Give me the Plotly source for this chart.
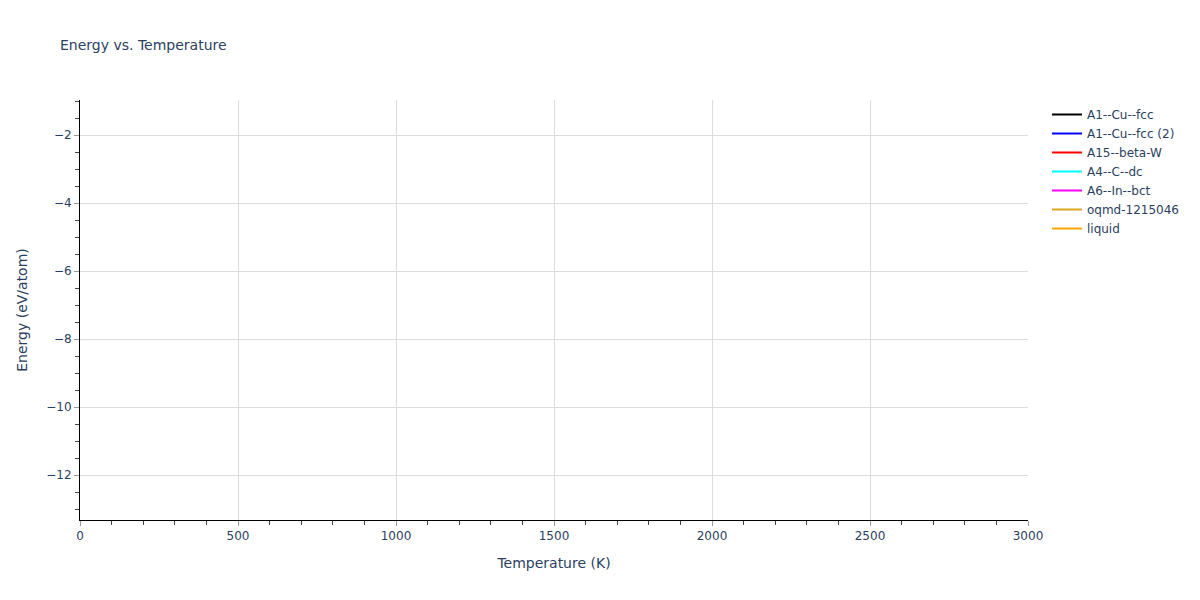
import plotly.graph_objects as go

# phases shown in the legend; no energy values fall inside the plotted window
phase_names = [
    "A1--Cu--fcc",
    "A1--Cu--fcc (2)",
    "A15--beta-W",
    "A4--C--dc",
    "A6--In--bct",
    "oqmd-1215046",
    "liquid",
]
phase_colors = ["black", "blue", "red", "cyan", "magenta", "goldenrod", "orange"]
temperatures = [None]
energies = {name: [None] for name in phase_names}

fig = go.Figure()
for name, color in zip(phase_names, phase_colors):
    fig.add_trace(go.Scatter(
        x=temperatures,
        y=energies[name],
        mode="lines",
        name=name,
        line=dict(color=color, width=2),
    ))

axis_style = dict(
    showline=True,
    linecolor="black",
    linewidth=1,
    ticks="outside",
    tickcolor="#999",
    ticklen=5,
    showgrid=True,
    gridcolor="#dcdcdc",
    zeroline=False,
)

fig.update_xaxes(
    title_text="Temperature (K)",
    range=[0, 3000],
    dtick=500,
    minor=dict(ticks="outside", dtick=100, ticklen=4, tickcolor="#444", showgrid=False),
    **axis_style,
)
fig.update_yaxes(
    title_text="Energy (eV/atom)",
    range=[-13.32, -0.97],
    dtick=2,
    minor=dict(ticks="outside", dtick=0.5, ticklen=4, tickcolor="#444", showgrid=False),
    **axis_style,
)
# the page body adds an 8px offset, so margins are trimmed to match
fig.update_layout(
    title=dict(text="Energy vs. Temperature", font=dict(size=14),
               x=0.0433, y=0.938, yanchor="middle"),
    width=1200,
    height=600,
    margin=dict(l=72, r=180, t=92, b=88),
    plot_bgcolor="white",
    paper_bgcolor="white",
    font=dict(family="DejaVu Sans", size=12, color="#2a3f5f"),
    showlegend=True,
)
fig.write_html("out.html")
